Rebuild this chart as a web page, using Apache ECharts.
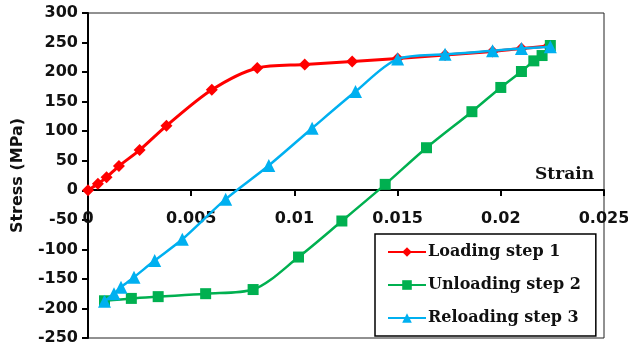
<!DOCTYPE html>
<html>
<head>
<meta charset="utf-8">
<script src="https://cdn.jsdelivr.net/npm/echarts@6/dist/echarts.min.js"></script>
<style>
  html, body { margin: 0; padding: 0; background: #fff; }
  #chart { width: 628px; height: 349px; }
</style>
</head>
<body>
<div id="chart"></div>
<script>
// ---- data ----
const seriesNames = ['Loading step 1', 'Unloading step 2', 'Reloading step 3'];

const loadingStrain = [0, 0.00048, 0.0009, 0.0015, 0.0025, 0.0038, 0.0060, 0.0082, 0.0105, 0.0128, 0.0150, 0.0173, 0.0196, 0.0210, 0.0223];
const loadingStress = [0, 11, 22, 41, 68, 109, 170, 207, 213, 218, 223, 229, 235, 240, 244];

const unloadingStrain = [0.0224, 0.0220, 0.0216, 0.0210, 0.0200, 0.0186, 0.0164, 0.0144, 0.0123, 0.0102, 0.0080, 0.0057, 0.0034, 0.0021, 0.0008];
const unloadingStress = [245, 228, 219, 201, 174, 133, 72, 10, -52, -113, -168, -175, -180, -183, -187];

const reloadingStrain = [0.0008, 0.00126, 0.0016, 0.00223, 0.00323, 0.00457, 0.00667, 0.00876, 0.01086, 0.01296, 0.0150, 0.0173, 0.0196, 0.0210, 0.0224];
const reloadingStress = [-188, -175, -164, -147, -119, -83, -15, 42, 105, 167, 222, 230, 236, 240, 243];

const xTicks = [0, 0.005, 0.01, 0.015, 0.02, 0.025];
const yTicks = [-250, -200, -150, -100, -50, 0, 50, 100, 150, 200, 250, 300];

// ---- build ----
const zip = (xs, ys) => xs.map((x, i) => [x, ys[i]]);
const tickFont = 'DejaVu Sans';
const serifFont = 'DejaVu Serif';

const gridTop = 13, gridBottom = 11, chartH = 349;
const yMin = yTicks[0], yMax = yTicks[yTicks.length - 1];
const plotH = chartH - gridTop - gridBottom;
// move the x axis up from the grid bottom to the zero line
const zeroOffset = -Math.round(plotH * (0 - yMin) / (yMax - yMin));

const chart = echarts.init(document.getElementById('chart'), null, { renderer: 'canvas' });
chart.setOption({
  animation: false,
  backgroundColor: '#fff',
  grid: {
    left: 88, right: 24, top: gridTop, bottom: gridBottom,
    containLabel: false, outerBoundsMode: 'none',
    show: true, borderColor: '#222', borderWidth: 1, backgroundColor: 'transparent'
  },
  xAxis: {
    type: 'value', position: 'bottom', offset: zeroOffset,
    min: xTicks[0], max: xTicks[xTicks.length - 1], interval: xTicks[1] - xTicks[0],
    axisLine: { onZero: false, lineStyle: { color: '#000', width: 2 } },
    axisTick: { show: true, inside: false, length: 6, lineStyle: { color: '#000', width: 2 } },
    splitLine: { show: false },
    axisLabel: {
      margin: 21, color: '#111', fontFamily: tickFont, fontWeight: 'bold', fontSize: 16,
      formatter: v => String(+(+v).toFixed(3))
    },
    name: 'Strain', nameLocation: 'end', nameGap: -10,
    nameTextStyle: {
      fontFamily: serifFont, fontWeight: 'bold', fontSize: 17, color: '#111',
      align: 'right', verticalAlign: 'bottom', padding: [0, 0, 7, 0]
    }
  },
  yAxis: {
    type: 'value',
    min: yMin, max: yMax, interval: yTicks[1] - yTicks[0],
    axisLine: { show: true, onZero: false, lineStyle: { color: '#000', width: 2 } },
    axisTick: { show: true, inside: false, length: 6, lineStyle: { color: '#000', width: 2 } },
    splitLine: { show: false },
    axisLabel: { margin: 10, color: '#111', fontFamily: tickFont, fontWeight: 'bold', fontSize: 16 },
    name: 'Stress (MPa)', nameLocation: 'middle', nameGap: 62, nameRotate: 90,
    nameTextStyle: { fontFamily: tickFont, fontWeight: 'bold', fontSize: 16, color: '#111' }
  },
  legend: {
    orient: 'vertical', left: 375, top: 234,
    backgroundColor: '#fff', borderColor: '#000', borderWidth: 1.5,
    padding: [10, 15, 10, 12],
    itemWidth: 38, itemHeight: 12, itemGap: 17,
    textStyle: { fontFamily: serifFont, fontWeight: 'bold', fontSize: 16, color: '#111', lineHeight: 16, padding: [0, 0, 0, -3] },
    data: seriesNames
  },
  series: [
    {
      name: seriesNames[0], type: 'line', smooth: 0.3,
      data: zip(loadingStrain, loadingStress),
      symbol: 'diamond', symbolSize: 12,
      lineStyle: { color: '#FF0000', width: 3 },
      itemStyle: { color: '#FF0000' }, z: 2
    },
    {
      name: seriesNames[1], type: 'line', smooth: 0.3,
      data: zip(unloadingStrain, unloadingStress),
      symbol: 'rect', symbolSize: 11,
      lineStyle: { color: '#00B050', width: 2.5 },
      itemStyle: { color: '#00B050' }, z: 3
    },
    {
      name: seriesNames[2], type: 'line', smooth: 0.3,
      data: zip(reloadingStrain, reloadingStress),
      symbol: 'triangle', symbolSize: 13,
      lineStyle: { color: '#00B0F0', width: 2.5 },
      itemStyle: { color: '#00B0F0' }, z: 4
    }
  ]
});
</script>
</body>
</html>
